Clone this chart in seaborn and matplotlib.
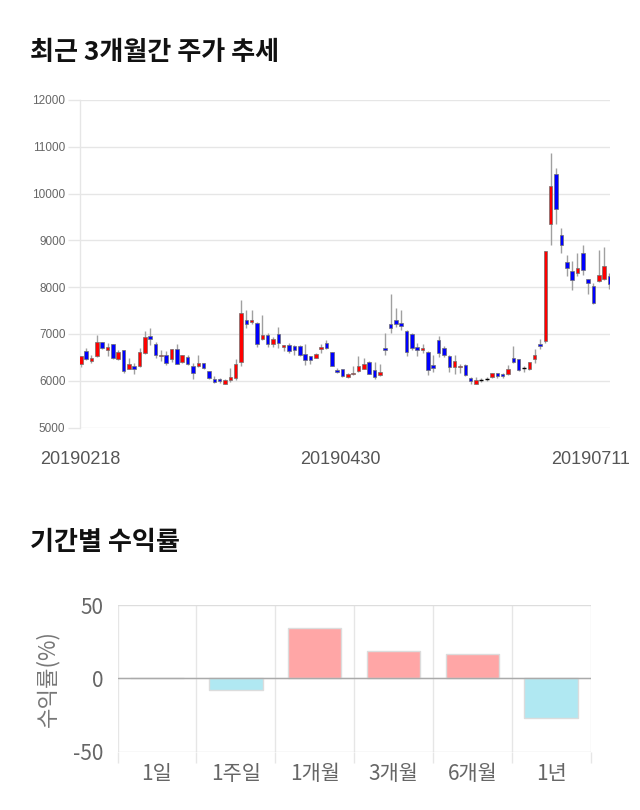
import numpy as np
import pandas as pd
import matplotlib
matplotlib.use("Agg")
import matplotlib.pyplot as plt
import seaborn as sns

# ---------------- data: daily candles (3 months) ----------------
opens = [6350, 6645, 6420, 6525, 6830, 6660, 6775, 6455, 6665, 6255,
         6325, 6310, 6595, 6950, 6795, 6530, 6560, 6455, 6680, 6405,
         6505, 6325, 6310, 6375, 6205, 6030, 6035, 5935, 6005, 6065,
         6405, 7305, 7255, 7235, 6895, 6985, 6775, 7000, 6715, 6760,
         6740, 6750, 6575, 6520, 6490, 6680, 6810, 6615, 6225, 6255,
         6085, 6135, 6205, 6255, 6405, 6220, 6120, 6690, 7215, 7305,
         7235, 7055, 7000, 6715, 6665, 6610, 6335, 6880, 6690, 6525,
         6290, 6290, 6335, 6065, 5935, 6015, 6045, 6080, 6155, 6150,
         6135, 6490, 6455, 6265, 6250, 6455, 6785, 6845, 9340, 10410,
         9125, 8545, 8345, 8295, 8720, 8165, 8025, 8135, 8165, 8235]
highs = [6525, 6700, 6545, 6985, 6830, 6810, 6790, 6665, 6665, 6475,
         6385, 6700, 7055, 7130, 6830, 6665, 6630, 6680, 6785, 6560,
         6545, 6385, 6545, 6385, 6205, 6100, 6065, 6030, 6265, 6455,
         7730, 7520, 7520, 7255, 7395, 7020, 6930, 7140, 6760, 6810,
         6760, 6760, 6785, 6525, 6595, 6785, 6860, 6615, 6265, 6255,
         6170, 6310, 6525, 6475, 6415, 6405, 6350, 7020, 7860, 7555,
         7505, 7090, 7020, 6810, 6775, 6630, 6545, 6950, 6740, 6540,
         6545, 6350, 6350, 6085, 6085, 6065, 6080, 6155, 6170, 6170,
         6335, 6750, 6470, 6310, 6405, 6670, 6885, 8770, 10860, 10540,
         9270, 8685, 8555, 8735, 8900, 8180, 8080, 8790, 8850, 8300]
lows = [6300, 6450, 6385, 6500, 6680, 6525, 6455, 6435, 6170, 6240,
        6150, 6290, 6575, 6760, 6475, 6420, 6335, 6400, 6350, 6385,
        6335, 6045, 6290, 6255, 6035, 5945, 5955, 5920, 5980, 6005,
        6310, 7130, 7215, 6715, 6880, 6715, 6715, 6700, 6630, 6595,
        6545, 6525, 6335, 6350, 6480, 6595, 6680, 6310, 6170, 6080,
        6065, 6120, 6190, 6240, 6135, 6030, 6100, 6560, 7020, 7140,
        7090, 6525, 6665, 6520, 6595, 6120, 6190, 6505, 6505, 6190,
        6150, 6155, 6100, 5935, 5920, 5970, 5995, 6065, 6065, 6065,
        6120, 6385, 6205, 6190, 6230, 6385, 6670, 6810, 8910, 9340,
        8720, 8235, 7935, 8235, 8270, 7850, 7650, 8115, 8150, 7950]
closes = [6525, 6455, 6490, 6830, 6700, 6725, 6475, 6610, 6205, 6350,
          6255, 6610, 6930, 6895, 6540, 6560, 6385, 6680, 6350, 6545,
          6350, 6170, 6375, 6275, 6050, 5980, 5995, 6005, 6085, 6360,
          7445, 7215, 7305, 6795, 6985, 6775, 6895, 6810, 6760, 6630,
          6665, 6560, 6445, 6440, 6580, 6730, 6700, 6325, 6190, 6100,
          6150, 6170, 6325, 6360, 6150, 6085, 6185, 6650, 7130, 7220,
          7165, 6615, 6700, 6660, 6700, 6220, 6265, 6595, 6545, 6290,
          6420, 6310, 6120, 5995, 6005, 6015, 6045, 6155, 6100, 6100,
          6240, 6395, 6225, 6265, 6390, 6540, 6740, 8770, 10160, 9680,
          8900, 8400, 8150, 8415, 8365, 8080, 7665, 8260, 8455, 8065]
date_labels = ["20190218", "20190430", "20190711"]
date_pos = [0, 48.6, 95.4]
price_ticks = [5000, 6000, 7000, 8000, 9000, 10000, 11000, 12000]

# ---------------- data: period returns ----------------
periods = ["1일", "1주일", "1개월", "3개월", "6개월", "1년"]
returns = [0.0, -8.0, 34.1, 18.6, 16.8, -26.9]

# ---------------- style ----------------
sns.set_theme(style="white")
plt.rcParams["font.family"] = ["Noto Sans CJK KR", "DejaVu Sans"]

W, H = 640, 810
fig = plt.figure(figsize=(W / 100, H / 100), dpi=100)
fig.patch.set_facecolor("white")

GRID = "#e6e6e6"

# ---------------- top: candlestick chart ----------------
ax1 = fig.add_axes([80 / W, 1 - 427.5 / H, 530 / W, 327.5 / H])
df = pd.DataFrame({"open": opens, "high": highs, "low": lows, "close": closes})
df["x"] = np.arange(len(df))
up = df[df.close > df.open]
dn = df[df.close < df.open]
dj = df[df.close == df.open]

ax1.vlines(df.x, df.low, df.high, color="#a0a0a0", lw=1.0, zorder=2)
ax1.bar(up.x, up.close - up.open, bottom=up.open, width=0.66,
        color="#ff0000", edgecolor="#707070", linewidth=0.5, zorder=3)
ax1.bar(dn.x, dn.open - dn.close, bottom=dn.close, width=0.66,
        color="#0000ff", edgecolor="#707070", linewidth=0.5, zorder=3)
ax1.hlines(dj.open, dj.x - 0.4, dj.x + 0.4, color="black", lw=1.0, zorder=3)

ax1.set_xlim(-0.15, 99.1)
ax1.set_ylim(5000, 12000)
ax1.set_yticks(price_ticks)
ax1.set_yticklabels([str(v) for v in price_ticks], family=["Liberation Sans", "DejaVu Sans"])
ax1.yaxis.grid(True, color=GRID, lw=1)
ax1.set_axisbelow(True)
ax1.tick_params(axis="y", length=9, color=GRID, width=1, pad=1.5,
                labelsize=8.5, labelcolor="#666666", left=True)
ax1.set_xticks(date_pos)
ax1.set_xticklabels(date_labels, family=["Liberation Sans", "DejaVu Sans"])
ax1.tick_params(axis="x", length=0, pad=17, labelsize=13, labelcolor="#555555")
for s in ["top", "right", "bottom"]:
    ax1.spines[s].set_visible(False)
ax1.spines["left"].set_color(GRID)
ax1.spines["left"].set_linewidth(1)

fig.text(30 / W, 1 - 52 / H, "최근 3개월간 주가 추세", fontsize=18.8,
         fontweight="bold", ha="left", va="center", color="#111111")

# ---------------- bottom: period returns ----------------
ax2 = fig.add_axes([117.5 / W, 1 - 751.7 / H, 473.1 / W, 146.7 / H])
colors = ["#ffa6a6" if v >= 0 else "#b0e8f2" for v in returns]
sns.barplot(x=periods, y=returns, hue=periods, palette=colors, legend=False,
            width=0.68, edgecolor="#dcdcdc", linewidth=1, saturation=1,
            ax=ax2, zorder=3)
ax2.set_xlim(-0.5, len(periods) - 0.5)
ax2.set_ylim(-50, 50)
ax2.set_yticks([-50, 0, 50])
ax2.set_yticklabels(["-50", "0", "50"])
ax2.axhline(0, color="#aaaaaa", lw=1, zorder=4)
ax2.yaxis.grid(True, color="#dddddd", lw=1)
ax2.set_xticks(np.arange(-0.5, len(periods)), minor=True)
ax2.xaxis.grid(True, which="minor", color=GRID, lw=1)
ax2.tick_params(axis="x", which="minor", length=8, color=GRID, width=1, bottom=True)
ax2.tick_params(axis="x", which="major", length=0, pad=8, labelsize=15,
                labelcolor="#666666")
ax2.tick_params(axis="y", length=0, pad=10, labelsize=15, labelcolor="#666666")
ax2.set_axisbelow(True)
for s in ["top", "right", "bottom", "left"]:
    ax2.spines[s].set_visible(False)
ax2.set_ylabel("수익률(%)", fontsize=16, color="#777777", labelpad=10)
ax2.set_xlabel("")

fig.text(30 / W, 1 - 542 / H, "기간별 수익률", fontsize=18.8,
         fontweight="bold", ha="left", va="center", color="#111111")

fig.savefig("out.png", dpi=100, facecolor="white")
